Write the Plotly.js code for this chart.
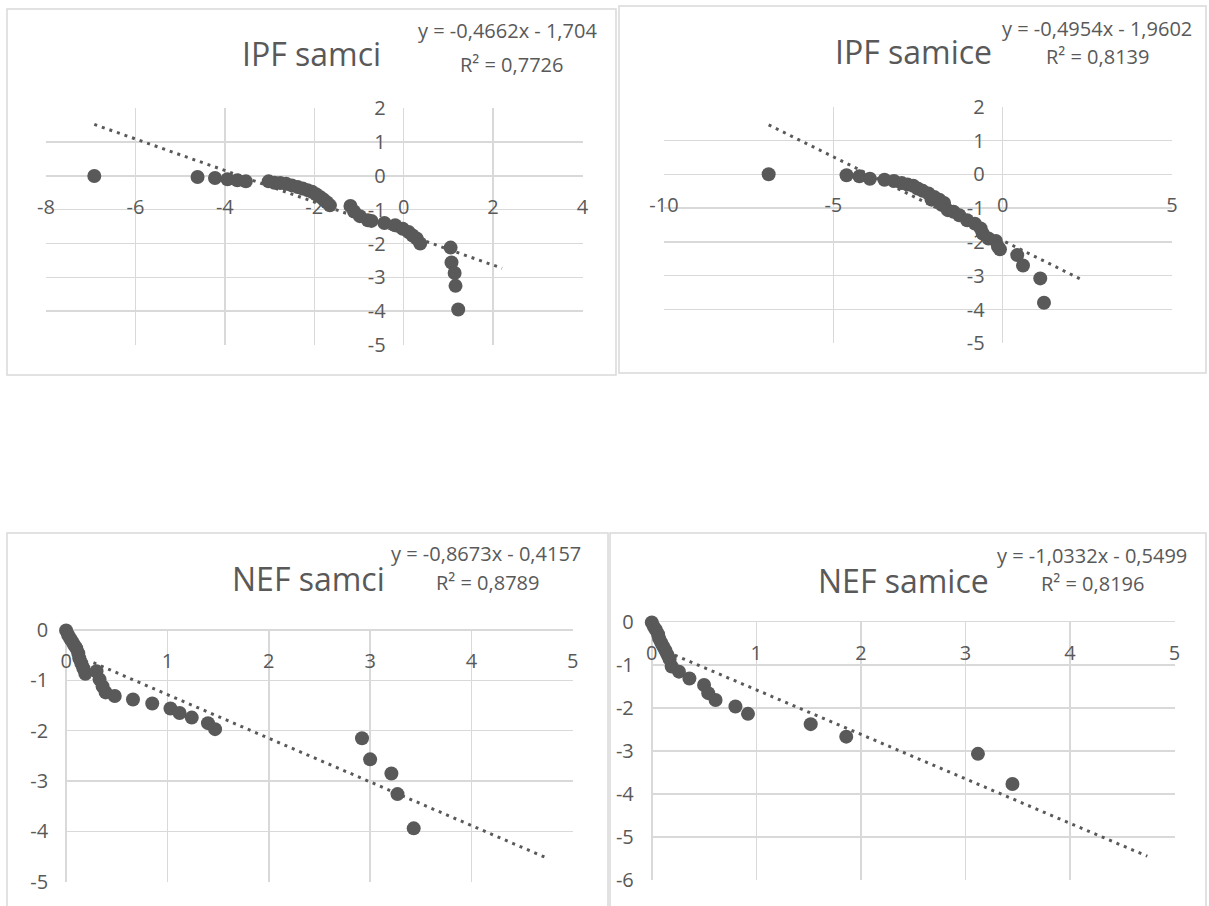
<!DOCTYPE html>
<html><head><meta charset="utf-8">
<script src="https://cdn.plot.ly/plotly-3.0.1.min.js"></script>
<style>html,body{margin:0;padding:0;background:#fff;}#chart{width:1209px;height:906px;}</style>
</head><body><div id="chart"></div>
<script>
// ---------------- DATA ----------------
const titles = ["IPF samci", "IPF samice", "NEF samci", "NEF samice"];
const eqLines = ["y = -0,4662x - 1,704", "y = -0,4954x - 1,9602", "y = -0,8673x - 0,4157", "y = -1,0332x - 0,5499"];
const r2Lines = ["R² = 0,7726", "R² = 0,8139", "R² = 0,8789", "R² = 0,8196"];

const ipfMaleX = [-6.92,-4.61,-4.22,-3.94,-3.72,-3.53,-3.02,-2.89,-2.76,-2.63,-2.50,-2.37,-2.26,-2.15,-2.05,-1.96,-1.87,-1.79,-1.72,-1.65,-1.19,-1.11,-0.98,-0.80,-0.72,-0.43,-0.19,-0.02,0.11,0.20,0.29,0.37,1.05,1.07,1.14,1.16,1.22];
const ipfMaleY = [0.00,-0.03,-0.06,-0.10,-0.13,-0.16,-0.16,-0.20,-0.21,-0.23,-0.28,-0.33,-0.37,-0.42,-0.47,-0.54,-0.62,-0.70,-0.78,-0.87,-0.89,-1.05,-1.19,-1.31,-1.33,-1.39,-1.46,-1.56,-1.66,-1.76,-1.85,-2.00,-2.12,-2.56,-2.87,-3.25,-3.95];

const ipfFemaleX = [-6.91,-4.61,-4.23,-3.92,-3.49,-3.21,-2.98,-2.81,-2.64,-2.51,-2.36,-2.19,-2.10,-2.02,-1.87,-1.80,-1.73,-1.62,-1.45,-1.28,-1.05,-0.82,-0.65,-0.59,-0.42,-0.20,-0.14,-0.08,0.43,0.60,1.11,1.22];
const ipfFemaleY = [0.00,-0.03,-0.06,-0.13,-0.16,-0.20,-0.26,-0.30,-0.34,-0.42,-0.49,-0.57,-0.75,-0.67,-0.75,-0.90,-0.85,-1.06,-1.11,-1.21,-1.36,-1.46,-1.60,-1.75,-1.90,-1.97,-2.14,-2.22,-2.39,-2.70,-3.08,-3.80];

const nefMaleX = [0.00,0.02,0.04,0.06,0.08,0.10,0.12,0.13,0.15,0.17,0.19,0.30,0.33,0.36,0.39,0.48,0.66,0.85,1.03,1.12,1.24,1.40,1.47,2.92,3.00,3.21,3.27,3.43];
const nefMaleY = [-0.01,-0.10,-0.17,-0.23,-0.30,-0.36,-0.46,-0.56,-0.66,-0.76,-0.87,-0.82,-0.98,-1.12,-1.24,-1.31,-1.38,-1.46,-1.56,-1.65,-1.74,-1.85,-1.97,-2.15,-2.57,-2.85,-3.26,-3.94];

const nefFemaleX = [0.00,0.02,0.04,0.06,0.07,0.09,0.11,0.13,0.15,0.17,0.19,0.26,0.36,0.50,0.54,0.61,0.80,0.92,1.52,1.86,3.12,3.45];
const nefFemaleY = [-0.02,-0.12,-0.19,-0.29,-0.39,-0.49,-0.58,-0.67,-0.77,-0.87,-1.04,-1.16,-1.32,-1.47,-1.66,-1.82,-1.97,-2.14,-2.38,-2.67,-3.07,-3.77];

// trendline coefficients [slope, intercept] and drawn x extent
const trendCoef = [[-0.4662,-1.704],[-0.4954,-1.9602],[-0.8673,-0.4157],[-1.0332,-0.5499]];
const trendXExtent = [[-6.92,2.2],[-6.91,2.3],[0.27,4.75],[0.22,4.74]];

// axis ticks
const xTickVals = [[-8,-6,-4,-2,0,2,4],[-10,-5,0,5],[0,1,2,3,4,5],[0,1,2,3,4,5]];
const xTickText = [["-8","-6","-4","-2","0","2","4"],["-10","-5","0","5"],["0","1","2","3","4","5"],["0","1","2","3","4","5"]];
const yTickVals = [[-5,-4,-3,-2,-1,0,1,2],[-5,-4,-3,-2,-1,0,1,2],[-5,-4,-3,-2,-1,0],[-6,-5,-4,-3,-2,-1,0]];
const yTickText = [["-5","-4","-3","-2","-1","0","1","2"],["-5","-4","-3","-2","-1","0","1","2"],["-5","-4","-3","-2","-1","0"],["-6","-5","-4","-3","-2","-1","0"]];

const seriesX = [ipfMaleX, ipfFemaleX, nefMaleX, nefFemaleX];
const seriesY = [ipfMaleY, ipfFemaleY, nefMaleY, nefFemaleY];

// ---------------- LAYOUT ----------------
const W = 1209, H = 906;
const FONT = '"Open Sans", "Noto Sans", sans-serif';
const TXT = '#595959', GRID = '#d9d9d9', MARK = '#595959';

// plot-area boxes in pixels (left, right, top, bottom) and ranges
const panels = [
  {l:46, r:582.5, t:108.3, b:345, xr:[-8,4], yr:[-5,2], border:[7,616,9,375], title:[311,54], eq:[507,31], r2:[511,64]},
  {l:664, r:1172, t:106.7, b:343.3, xr:[-10,5], yr:[-5,2], border:[619,1206,6,373], title:[913,52], eq:[1097,28], r2:[1097,57]},
  {l:66.1, r:572.8, t:630, b:881.7, xr:[0,5], yr:[-5,0], border:[7,608,533,915], title:[308,578], eq:[486,553], r2:[487,582]},
  {l:651.8, r:1174.5, t:621.7, b:880, xr:[0,5], yr:[-6,0], border:[610,1206,533,915], title:[903,580], eq:[1092,555], r2:[1092,583]}
];

const px = v => v / W, py = v => 1 - v / H;

const data = [];
const layout = {
  width: W, height: H,
  margin: {l:0, r:0, t:0, b:0},
  paper_bgcolor: '#fff', plot_bgcolor: 'rgba(0,0,0,0)',
  showlegend: false,
  font: {family: FONT, color: TXT},
  annotations: [], shapes: []
};

panels.forEach((p, i) => {
  const n = i === 0 ? '' : String(i + 1);
  const xd = [px(p.l), px(p.r)], yd = [py(p.b), py(p.t)];
  const x0pos = xd[0] + (0 - p.xr[0]) / (p.xr[1] - p.xr[0]) * (xd[1] - xd[0]);
  const y0pos = yd[0] + (0 - p.yr[0]) / (p.yr[1] - p.yr[0]) * (yd[1] - yd[0]);
  const common = {showgrid: true, gridcolor: GRID, gridwidth: 1.5, zeroline: true, zerolinecolor: GRID, zerolinewidth: 1.5,
    showline: false, ticks: '', tickmode: 'array', fixedrange: true, anchor: 'free',
    tickfont: {family: FONT, size: 20, color: TXT}};
  layout['xaxis' + n] = Object.assign({}, common, {domain: xd, range: p.xr, position: y0pos,
    tickvals: xTickVals[i], ticktext: xTickText[i], ticklabelstandoff: 17});
  layout['yaxis' + n] = Object.assign({}, common, {domain: yd, range: p.yr, position: x0pos,
    tickvals: yTickVals[i], ticktext: yTickText[i], ticklabelstandoff: 18});

  data.push({type: 'scatter', mode: 'markers', x: seriesX[i], y: seriesY[i], xaxis: 'x' + n, yaxis: 'y' + n,
    marker: {color: MARK, size: 14, line: {width: 0}}, cliponaxis: false, hoverinfo: 'skip'});
  const [m, c] = trendCoef[i];
  const tx = trendXExtent[i];
  data.push({type: 'scatter', mode: 'lines', x: tx, y: tx.map(v => m * v + c), xaxis: 'x' + n, yaxis: 'y' + n,
    line: {color: MARK, width: 3, dash: '3px,5px'}, cliponaxis: false, hoverinfo: 'skip'});

  const b = p.border;
  layout.shapes.push({type: 'rect', xref: 'paper', yref: 'paper', x0: px(b[0]), x1: px(b[1]), y0: py(b[3]), y1: py(b[2]),
    line: {color: GRID, width: 1.5}, fillcolor: 'rgba(0,0,0,0)', layer: 'below'});

  layout.annotations.push({xref: 'paper', yref: 'paper', x: px(p.title[0]), y: py(p.title[1]), xanchor: 'center', yanchor: 'middle',
    text: titles[i], showarrow: false, font: {family: FONT, size: 32, color: TXT}});
  layout.annotations.push({xref: 'paper', yref: 'paper', x: px(p.eq[0]), y: py(p.eq[1]), xanchor: 'center', yanchor: 'middle',
    text: eqLines[i], showarrow: false, font: {family: FONT, size: 20, color: TXT}});
  layout.annotations.push({xref: 'paper', yref: 'paper', x: px(p.r2[0]), y: py(p.r2[1]), xanchor: 'center', yanchor: 'middle',
    text: r2Lines[i], showarrow: false, font: {family: FONT, size: 20, color: TXT}});
});

Plotly.newPlot('chart', data, layout, {displayModeBar: false, staticPlot: true});
</script>
</body></html>
